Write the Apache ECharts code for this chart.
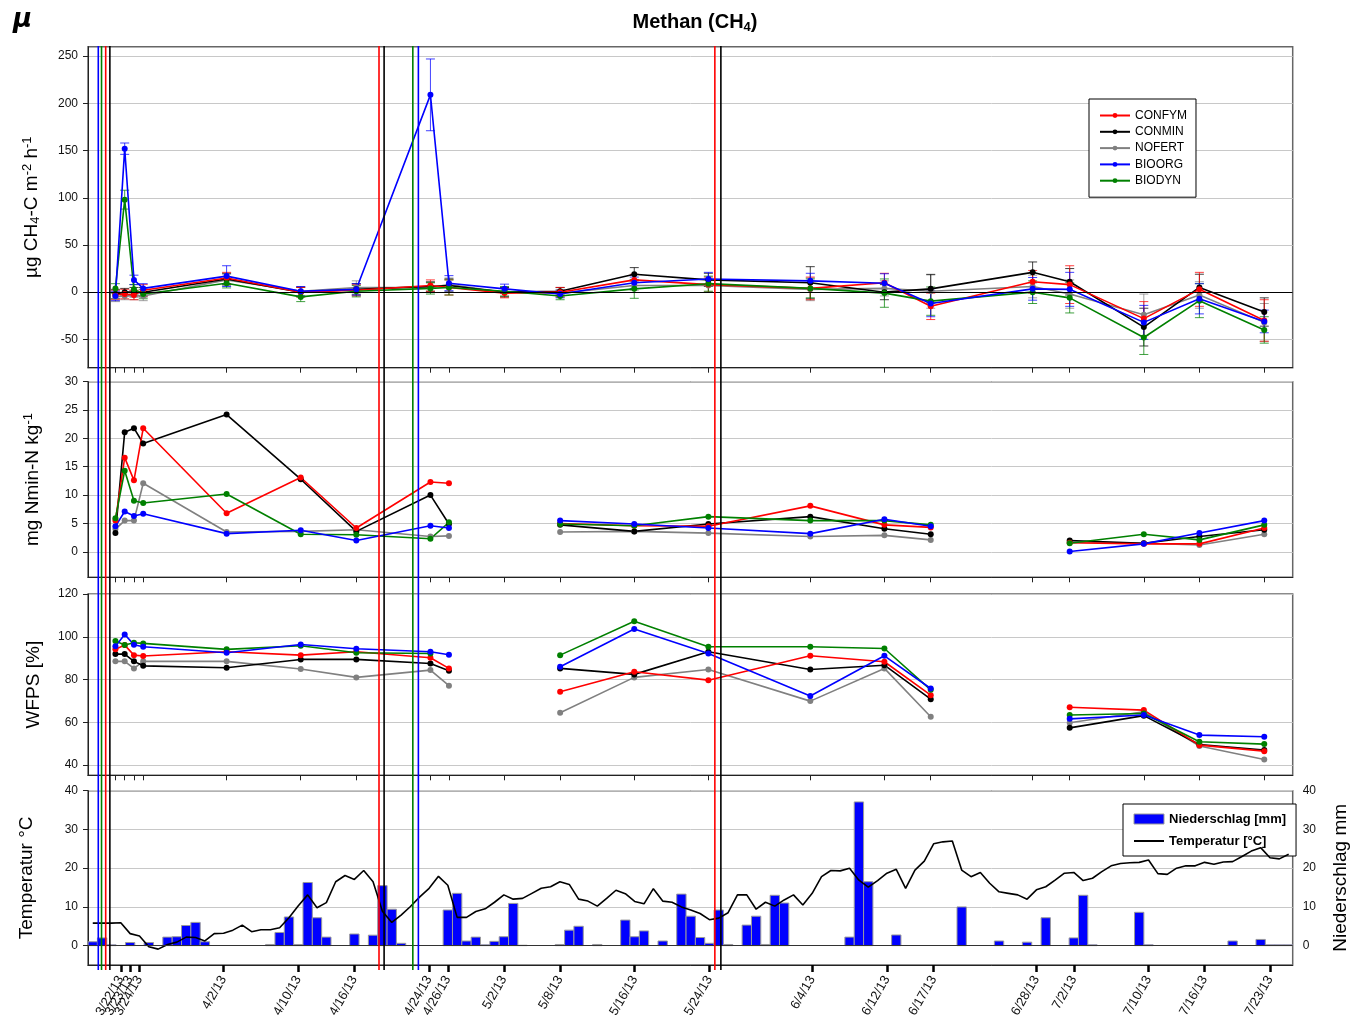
<!DOCTYPE html>
<html><head><meta charset="utf-8">
<script src="https://cdn.jsdelivr.net/npm/echarts@6/dist/echarts.min.js"></script>
<style>html,body{margin:0;padding:0;background:#fff}#c{width:1365px;height:1032px}</style>
</head><body><div id="c"></div>
<script>
// ---------------- DATA ----------------
const sampleDates = ['3/21/13','3/22/13','3/23/13','3/24/13','4/2/13','4/10/13','4/16/13','4/24/13','4/26/13','5/2/13','5/8/13','5/16/13','5/24/13','6/4/13','6/12/13','6/17/13','6/28/13','7/2/13','7/10/13','7/16/13','7/23/13'];
const treatments = ['CONFYM','CONMIN','NOFERT','BIOORG','BIODYN'];

// CH4 flux (µg CH4-C m-2 h-1) and error (half width)
const ch4CONFYM = [-3, -2, -3, 2, 15, 0, 2, 7, 5, -1, 0, 13, 8, 4, 10, -15, 11, 8, -28, 3, -30];
const ch4CONMIN = [-2, 0, 0, 0, 14, 0, 3, 6, 7, 0, 1, 19, 13, 10, 0, 3.5, 21, 11, -37, 5, -21];
const ch4NOFERT = [-5, -4, -3, -4, 13, 1, 5, 5, 8, 0, -1, 7, 7, 3, 4, 1, 6, -2, -24, -3, -32];
const ch4BIOORG = [-4, 152, 13, 4, 17, 1, 3, 209, 9.5, 3.5, -2, 10, 14, 12, 9.5, -12, 3.5, 3, -32, -7, -31];
const ch4BIODYN = [4, 98, 3, -2, 9.5, -5, 1, 4, 5, 1, -4, 3.5, 9, 4, -1, -9.5, 0, -6, -48, -9, -40];
const errCONFYM = [5, 5, 5, 6, 6, 5, 6, 6, 8, 5, 5, 6, 8, 12, 10, 14, 12, 20, 18, 18, 22];
const errCONMIN = [5, 4, 5, 5, 6, 5, 6, 5, 7, 5, 4, 7, 7, 17, 8, 15, 11, 14, 20, 14, 15];
const errNOFERT = [5, 4, 5, 5, 6, 5, 7, 5, 7, 5, 4, 5, 7, 12, 8, 18, 12, 15, 22, 14, 20];
const errBIOORG = [5, 6, 5, 5, 11, 5, 6, 38, 8, 5, 4, 6, 7, 8, 10, 14, 12, 18, 18, 16, 12];
const errBIODYN = [5, 10, 5, 5, 5, 5, 6, 6, 8, 5, 4, 10, 8, 10, 15, 15, 12, 16, 18, 18, 14];

// Nmin (mg Nmin-N kg-1)
const nminCONFYM = [5.5, 16.6, 12.6, 21.8, 6.8, 13.1, 4.2, 12.3, 12.1, null, 5.0, 4.6, 4.5, 8.1, 4.75, 4.3, null, 1.6, 1.4, 1.4, 4.2];
const nminCONMIN = [3.3, 21.1, 21.8, 19.1, 24.2, 12.8, 3.6, 10.0, 4.9, null, 4.75, 3.6, 4.9, 6.2, 4.05, 3.1, null, 2.0, 1.5, 2.7, 3.9];
const nminNOFERT = [4.0, 5.5, 5.5, 12.1, 3.5, 3.6, 3.9, 2.7, 2.8, null, 3.5, 3.6, 3.3, 2.7, 2.9, 2.1, null, 1.7, 1.5, 1.2, 3.1];
const nminBIOORG = [4.5, 7.1, 6.3, 6.7, 3.2, 3.8, 2.0, 4.6, 4.2, null, 5.5, 4.9, 4.2, 3.2, 5.75, 4.5, null, 0.06, 1.4, 3.3, 5.5];
const nminBIODYN = [5.9, 14.3, 9.0, 8.6, 10.2, 3.1, 3.0, 2.3, 5.2, null, 4.9, 4.6, 6.2, 5.5, 5.5, 4.75, null, 1.5, 3.1, 2.1, 4.75];

// WFPS (%)
const wfpsCONFYM = [94.1, 96.1, 91.4, 91, 93, 91.4, 93, 90.2, 85.2, null, 74.3, 83.6, 79.7, 91.1, 88.3, 72.7, null, 67, 65.7, 49.3, 46.5];
const wfpsCONMIN = [91.9, 91.9, 88.5, 86.4, 85.5, 89.4, 89.4, 87.5, 84.1, null, 85.2, 82.4, 93, 84.7, 86.7, 70.8, null, 57.4, 63.1, 49.6, 47];
const wfpsNOFERT = [88.5, 88.5, 85.2, 88.5, 88.5, 84.9, 81, 84.4, 77.1, null, 64.5, 81, 84.7, 69.9, 85.2, 62.6, null, 59.8, 64.9, 48.9, 42.6];
const wfpsBIOORG = [95.6, 101.1, 96.3, 95.3, 92.5, 96.4, 94.4, 93, 91.6, null, 86, 103.6, 92.2, 72.3, 91.1, 75.8, null, 61.6, 63.4, 54, 53.2];
const wfpsBIODYN = [98, 96.1, 97.2, 96.9, 94.1, 95.8, 92.5, 92.2, null, null, 91.4, 107.3, 95.3, 95.3, 94.5, 75.2, null, 63.4, 64.1, 50.9, 49.8];

// Weather, daily from 3/19/13 to 7/25/13
const weatherStart = '3/19/13';
const temperature = [5.8, 5.8, 5.8, 5.9, 3.1, 2.5, -0.3, -0.9, 0.3, 0.9,
  2.2, 2.1, 1.2, 3.1, 3.2, 4.0, 5.3, 3.6, 4.1, 4.1,
  4.6, 7.2, 10.3, 13.1, 9.8, 11.1, 16.5, 18.1, 17.1, 19.4,
  16.5, 8.9, 6.0, 7.9, 10.1, 12.6, 14.8, 17.9, 15.6, 7.3,
  7.3, 8.8, 9.5, 11.2, 13.1, 12.0, 12.2, 13.5, 14.8, 15.2,
  16.5, 15.8, 12.0, 11.5, 10.2, 12.2, 14.3, 13.4, 11.4, 10.8,
  14.7, 11.5, 11.2, 10.0, 9.2, 8.3, 6.7, 7.1, 8.5, 13.1,
  13.1, 9.4, 11.2, 10.2, 11.8, 13.1, 10.5, 13.5, 17.8, 19.4,
  19.3, 20.0, 16.9, 15.1, 16.8, 18.7, 19.7, 14.8, 19.5, 21.8,
  26.3, 26.8, 27.0, 19.5, 17.8, 18.9, 16.1, 13.9, 13.5, 13.1,
  12.0, 14.4, 15.2, 16.9, 18.7, 18.9, 16.8, 17.4, 19.1, 20.6,
  21.2, 21.4, 21.5, 22.1, 18.6, 18.4, 20.0, 20.6, 20.6, 21.5,
  21.0, 21.6, 21.7, 23.0, 24.4, 25.3, 22.7, 22.4, 23.6];
const precipitation = [1.0, 2.0, 0.2, 0, 0.8, 0, 0.8, 0, 2.2, 2.3,
  5.2, 6.0, 1.0, 0, 0, 0, 0, 0, 0, 0.3,
  3.4, 7.4, 0.3, 16.3, 7.2, 2.2, 0, 0, 3.0, 0,
  2.7, 15.5, 9.4, 0.6, 0, 0, 0, 0, 9.2, 13.5,
  1.2, 2.2, 0.2, 1.1, 2.3, 10.9, 0.1, 0, 0, 0,
  0.3, 4.0, 5.0, 0, 0.3, 0, 0, 6.6, 2.3, 3.8,
  0, 1.2, 0, 13.3, 7.6, 2.1, 0.6, 9.2, 0.3, 0,
  5.3, 7.6, 0.3, 13.0, 11.0, 0, 0, 0, 0, 0,
  0, 2.2, 37.1, 16.5, 0, 0, 2.75, 0, 0, 0,
  0, 0, 0, 10.0, 0, 0, 0, 1.2, 0, 0,
  0.9, 0, 7.2, 0, 0, 2.0, 13.0, 0.2, 0, 0,
  0, 0, 8.6, 0.2, 0, 0, 0, 0, 0, 0,
  0, 0, 1.2, 0, 0, 1.6, 0.2, 0.2, 0.2];

// Management events (days after 3/21/13), per treatment
const eventsCONFYM = [-1.05, 28.45, 64.7];
const eventsCONMIN = [-0.6, 29.0, 65.35];
const eventsBIOORG = [-1.85, 32.7];
const eventsBIODYN = [-1.5, 32.1];

const ch4Ticks = [-50, 0, 50, 100, 150, 200, 250];
const nminTicks = [0, 5, 10, 15, 20, 25, 30];
const wfpsTicks = [40, 60, 80, 100, 120];
const weatherTicks = [0, 10, 20, 30, 40];

// ---------------- BUILD ----------------
function dayOf(s) {
  const p = s.split('/').map(Number);
  return (Date.UTC(2000 + p[2], p[0] - 1, p[1]) - Date.UTC(2013, 2, 21)) / 86400000;
}
const sampleDays = sampleDates.map(dayOf);
const wStart = dayOf(weatherStart);
const colors = {CONFYM: '#ff0000', CONMIN: '#000000', NOFERT: '#808080', BIOORG: '#0000ff', BIODYN: '#008000'};
const ch4 = {CONFYM: ch4CONFYM, CONMIN: ch4CONMIN, NOFERT: ch4NOFERT, BIOORG: ch4BIOORG, BIODYN: ch4BIODYN};
const err = {CONFYM: errCONFYM, CONMIN: errCONMIN, NOFERT: errNOFERT, BIOORG: errBIOORG, BIODYN: errBIODYN};
const nmin = {CONFYM: nminCONFYM, CONMIN: nminCONMIN, NOFERT: nminNOFERT, BIOORG: nminBIOORG, BIODYN: nminBIODYN};
const wfps = {CONFYM: wfpsCONFYM, CONMIN: wfpsCONMIN, NOFERT: wfpsNOFERT, BIOORG: wfpsBIOORG, BIODYN: wfpsBIODYN};
const events = {CONFYM: eventsCONFYM, CONMIN: eventsCONMIN, BIOORG: eventsBIOORG, BIODYN: eventsBIODYN};
const drawOrder = ['NOFERT', 'CONMIN', 'CONFYM', 'BIODYN', 'BIOORG'];

const FONT = 'Liberation Sans, Arial, sans-serif';
const X_MIN = -2.96, X_MAX = 127.07;
const XW_MIN = -2.51, XW_MAX = 126.43;

function pts(arr) { return sampleDays.map((d, i) => [d, arr[i] == null ? '-' : arr[i]]); }

const series = [];
// error bars (CH4)
drawOrder.forEach(t => {
  series.push({
    type: 'custom', name: t + ' err', xAxisIndex: 0, yAxisIndex: 0, z: 2,
    data: sampleDays.map((d, i) => [d, ch4[t][i], err[t][i]]),
    renderItem: (params, api) => {
      const x = api.value(0), y = api.value(1), e = api.value(2);
      const a = api.coord([x, y + e]), b = api.coord([x, y - e]);
      const h = 4.5;
      const st = {stroke: colors[t], lineWidth: 1, opacity: 0.75};
      return {type: 'group', children: [
        {type: 'line', shape: {x1: a[0], y1: a[1], x2: b[0], y2: b[1]}, style: st},
        {type: 'line', shape: {x1: a[0] - h, y1: a[1], x2: a[0] + h, y2: a[1]}, style: st},
        {type: 'line', shape: {x1: b[0] - h, y1: b[1], x2: b[0] + h, y2: b[1]}, style: st}
      ]};
    }
  });
});
const panels = [ch4, nmin, wfps];
panels.forEach((src, pi) => {
  drawOrder.forEach((t, k) => {
    const s = {
      type: 'line', name: t, xAxisIndex: pi, yAxisIndex: pi, z: 3,
      data: pts(src[t]), connectNulls: false,
      symbol: 'circle', symbolSize: 6, showSymbol: true,
      lineStyle: {color: colors[t], width: 1.6},
      itemStyle: {color: colors[t]},
      emphasis: {disabled: true}, animation: false
    };
    if (pi === 0 && k === 0) {
      s.markLine = {silent: true, symbol: 'none', label: {show: false},
        lineStyle: {color: '#000', width: 1.2, type: 'solid'}, data: [{yAxis: 0}], animation: false};
    }
    series.push(s);
  });
});
// precipitation bars
series.push({
  type: 'custom', name: 'Niederschlag [mm]', xAxisIndex: 3, yAxisIndex: 4, z: 2, clip: true,
  data: precipitation.map((v, i) => [wStart + i, v]),
  renderItem: (params, api) => {
    const d = api.value(0), v = api.value(1);
    if (!(v > 0)) return null;
    const p1 = api.coord([d - 0.5, v]), p2 = api.coord([d + 0.5, 0]);
    return {type: 'rect', shape: {x: p1[0], y: p1[1], width: p2[0] - p1[0], height: p2[1] - p1[1]},
      style: {fill: '#0000ff', stroke: '#9a9a9a', lineWidth: 1}};
  }
});
// temperature line
series.push({
  type: 'line', name: 'Temperatur [°C]', xAxisIndex: 3, yAxisIndex: 3, z: 4,
  data: temperature.map((v, i) => [wStart + i, v]),
  symbol: 'none', lineStyle: {color: '#000', width: 1.6}, itemStyle: {color: '#000'},
  emphasis: {disabled: true}, animation: false,
  markLine: {silent: true, symbol: 'none', label: {show: false},
    lineStyle: {color: '#333', width: 1.2, type: 'solid'}, data: [{yAxis: 0}], animation: false}
});
// management event lines across all panels
const evData = [];
Object.keys(events).forEach(t => events[t].forEach(d => evData.push([d, treatments.indexOf(t)])));
series.push({
  type: 'custom', name: 'events', xAxisIndex: 4, yAxisIndex: 5, z: 10, silent: true, clip: false,
  data: evData,
  renderItem: (params, api) => {
    const d = api.value(0), ti = api.value(1);
    const a = api.coord([d, 1]), b = api.coord([d, 0]);
    return {type: 'line', shape: {x1: a[0], y1: a[1], x2: b[0], y2: b[1]},
      style: {stroke: colors[treatments[ti]], lineWidth: 1.6}};
  }
});

function yAx(gi, min, max, ticks, name, nameGap, extra) {
  return Object.assign({
    type: 'value', gridIndex: gi, min: min, max: max,
    axisLine: {show: true, onZero: false, lineStyle: {color: '#222', width: 1}},
    axisTick: {show: true, customValues: ticks, length: 5, lineStyle: {color: '#222'}},
    axisLabel: {customValues: ticks, color: '#111', fontSize: 12, fontFamily: FONT, margin: 10},
    splitLine: {show: true, lineStyle: {color: '#c8c8c8', width: 1}},
    name: name, nameLocation: 'middle', nameRotate: 90, nameGap: nameGap,
    nameTextStyle: {fontSize: 19, fontFamily: FONT, color: '#000',
      rich: {
        a: {fontSize: 19, fontFamily: FONT, color: '#000'},
        s: {fontSize: 13, fontFamily: FONT, color: '#000', padding: [8, 0, 0, 0]},
        p: {fontSize: 13, fontFamily: FONT, color: '#000', padding: [0, 0, 8, 0]}
      }}
  }, extra || {});
}
function xAx(gi, min, max) {
  return {
    type: 'value', gridIndex: gi, min: min, max: max,
    axisLine: {show: true, onZero: false, lineStyle: {color: '#222', width: 1}},
    axisTick: {show: true, customValues: sampleDays, length: 5, lineStyle: {color: '#222'}},
    axisLabel: {show: false}, splitLine: {show: false}
  };
}
const labelOf = v => { const i = sampleDays.findIndex(d => Math.abs(d - v) < 1e-6); return i >= 0 ? sampleDates[i] : ''; };

const gridBase = {left: 88, right: 72.3, show: true, borderColor: '#666', borderWidth: 1.5, backgroundColor: 'transparent', outerBoundsMode: 'none'};
const option = {
  animation: false,
  backgroundColor: '#fff',
  title: [
    {text: '{t|Methan (CH}{s|4}{t|)}', left: 690, top: 6, textAlign: 'center',
      textStyle: {rich: {t: {fontSize: 20, fontWeight: 'bold', fontFamily: FONT, color: '#000'},
        s: {fontSize: 13, fontWeight: 'bold', fontFamily: FONT, color: '#000', padding: [10, 0, 0, 0]}}}},
    {text: 'μ', left: 8, top: 2, textStyle: {fontSize: 26, fontStyle: 'italic', fontWeight: 'bold', fontFamily: 'DejaVu Sans, sans-serif', color: '#000'}}
  ],
  legend: [
    {data: ['CONFYM', 'CONMIN', 'NOFERT', 'BIOORG', 'BIODYN'], orient: 'vertical', left: 1089, top: 99,
      itemWidth: 30, itemHeight: 6, itemGap: 2.3, padding: [9.5, 9, 9.5, 10],
      backgroundColor: '#fff', borderColor: '#000', borderWidth: 1, borderRadius: 0,
      textStyle: {fontSize: 12, fontFamily: FONT, color: '#000', lineHeight: 14}, selectedMode: false},
    {data: [{name: 'Niederschlag [mm]', icon: 'rect', itemStyle: {color: '#0000ff', borderColor: '#9a9a9a', borderWidth: 1}},
            {name: 'Temperatur [°C]', itemStyle: {color: 'rgba(0,0,0,0)', borderWidth: 0, opacity: 0}}],
      orient: 'vertical', left: 1123, top: 804, itemWidth: 30, itemHeight: 10, itemGap: 8,
      padding: [8, 10, 8, 10], backgroundColor: '#fff', borderColor: '#000', borderWidth: 1, borderRadius: 0,
      textStyle: {fontSize: 13, fontWeight: 'bold', fontFamily: 'Liberation Sans Narrow, Liberation Sans, Arial', color: '#000', lineHeight: 14},
      selectedMode: false}
  ],
  grid: [
    Object.assign({top: 46.7, height: 321}, gridBase),
    Object.assign({top: 381.7, height: 195.6}, gridBase),
    Object.assign({top: 594, height: 181.3}, gridBase),
    Object.assign({top: 790.7, height: 174.3}, gridBase),
    {left: 88, right: 72.3, top: 46, height: 924, show: false, outerBoundsMode: 'none'}
  ],
  xAxis: [
    xAx(0, X_MIN, X_MAX), xAx(1, X_MIN, X_MAX), xAx(2, X_MIN, X_MAX),
    {type: 'value', gridIndex: 3, min: XW_MIN, max: XW_MAX,
      axisLine: {show: true, onZero: false, lineStyle: {color: '#222', width: 1}},
      axisTick: {show: true, customValues: sampleDays, length: 7, lineStyle: {color: '#000', width: 2.5}},
      axisLabel: {customValues: sampleDays, formatter: labelOf, rotate: 60, margin: 12,
        fontSize: 13, fontFamily: FONT, color: '#111', hideOverlap: false},
      splitLine: {show: false}},
    {type: 'value', gridIndex: 4, min: X_MIN, max: X_MAX, show: false}
  ],
  yAxis: [
    yAx(0, -80, 260, ch4Ticks, '{a|µg CH}{s|4}{a|-C m}{p|-2}{a| h}{p|-1}', 46),
    yAx(1, -4.5, 30, nminTicks, '{a|mg Nmin-N kg}{p|-1}', 45),
    yAx(2, 35.2, 120, wfpsTicks, 'WFPS [%]', 45),
    yAx(3, -5, 40, weatherTicks, 'Temperatur °C', 52),
    yAx(3, -5, 40, weatherTicks, 'Niederschlag mm', 39, {position: 'right',
      axisLine: {show: false, onZero: false}, axisTick: {show: false, customValues: weatherTicks}, splitLine: {show: false}}),
    {type: 'value', gridIndex: 4, min: 0, max: 1, show: false}
  ],
  series: series
};
const chart = echarts.init(document.getElementById('c'));
chart.setOption(option);
</script>
</body></html>
